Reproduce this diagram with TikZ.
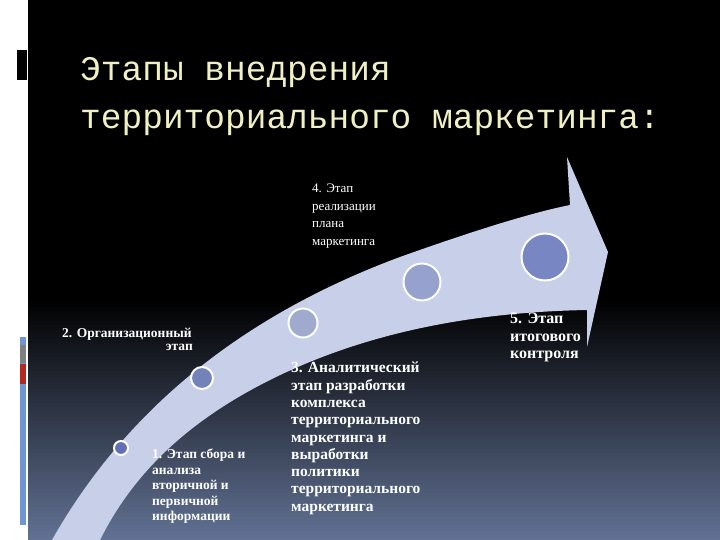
\documentclass[tikz,border=0pt]{standalone}
\usepackage{fontspec}
\setmainfont{Liberation Serif}
\newfontfamily\titlefont{Liberation Mono}
\definecolor{bgbot}{RGB}{98,114,148}
\definecolor{barblue}{RGB}{110,150,210}
\definecolor{barred}{RGB}{180,40,30}
\definecolor{arrowc}{RGB}{200,207,232}
\definecolor{cA}{RGB}{100,110,180}
\definecolor{cB}{RGB}{115,130,185}
\definecolor{cC}{RGB}{160,170,205}
\definecolor{cD}{RGB}{150,162,205}
\definecolor{cE}{RGB}{120,135,195}
\definecolor{titlec}{RGB}{240,240,195}
\begin{document}
\begin{tikzpicture}[x=1pt,y=-1pt,
  lbl/.style={text=white,align=left,inner sep=0pt},
  dot/.style={circle,draw=white,line width=2pt,fill=#1,inner sep=0pt}]
\useasboundingbox (0,0) rectangle (720,540);
\fill[white] (0,0) rectangle (720,540);
\fill[black] (28,0) rectangle (720,300);
\shade[top color=black,bottom color=bgbot] (28,299) rectangle (720,540);
\fill[black] (17,50) rectangle (27,80);
\fill[barblue] (20,337) rectangle (26,525);
\fill[gray] (20,345) rectangle (26,363);
\fill[barred] (20,364) rectangle (26,384);
% arrow
\fill[arrowc]
  (52,540) .. controls (120,420) and (230,320) .. (400,257)
  .. controls (470,232) and (530,213) .. (570,205)
  -- (567,157) -- (608,252) -- (587,347) -- (587,310)
  .. controls (480,312) and (370,330) .. (270,380)
  .. controls (180,425) and (130,480) .. (100,540) -- cycle;
\node[dot=cA,minimum size=14pt] (c1) at (121,448) {};
\node[dot=cB,minimum size=22pt] (c2) at (202,378) {};
\node[dot=cC,minimum size=29pt] (c3) at (303,323) {};
\node[dot=cD,minimum size=37pt] (c4) at (422,282) {};
\node[dot=cE,minimum size=47pt] (c5) at (545,257) {};
\node[anchor=north west,text=titlec,font=\titlefont\fontsize{34.5}{48}\selectfont,align=left,inner sep=0pt] (t) at (80,57) {Этапы внедрения\\территориального маркетинга:};
\node[lbl,anchor=north west,font=\fontsize{13}{17.5}\selectfont] (l4) at (312,184) {4. Этап\\реализации\\плана\\маркетинга};
\node[lbl,anchor=north west,font=\fontsize{13.5}{16}\selectfont\bfseries] (l2) at (62,328) {2. Организационный};
\node[lbl,anchor=north east,font=\fontsize{13.5}{16}\selectfont\bfseries] (l2b) at (193,344) {этап};
\node[lbl,anchor=north west,font=\fontsize{13.5}{15.5}\selectfont\bfseries] (l1) at (152,449) {1. Этап сбора и\\анализа\\вторичной и\\первичной\\информации};
\node[lbl,anchor=north west,font=\fontsize{15.5}{17.3}\selectfont\bfseries] (l3) at (291,362) {3. Аналитический\\этап разработки\\комплекса\\территориального\\маркетинга и\\выработки\\политики\\территориального\\маркетинга};
\node[lbl,anchor=north west,font=\fontsize{16}{17.5}\selectfont\bfseries] (l5) at (510,313) {5. Этап\\итогового\\контроля};
\end{tikzpicture}
\end{document}
